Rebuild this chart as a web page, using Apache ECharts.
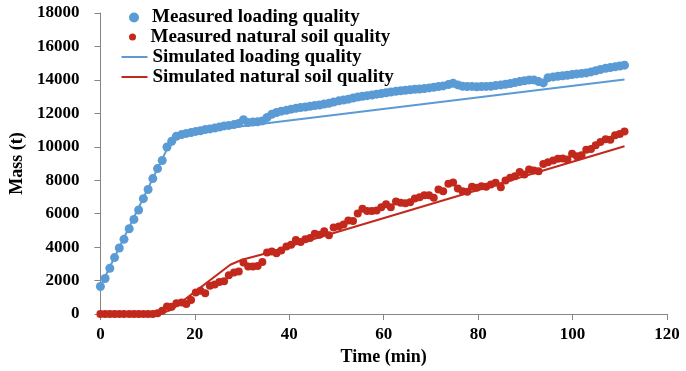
<!DOCTYPE html>
<html>
<head>
<meta charset="utf-8">
<script src="https://cdn.jsdelivr.net/npm/echarts@6/dist/echarts.min.js"></script>
<style>
html,body{margin:0;padding:0;background:#fff;}
#chart{width:686px;height:371px;}
</style>
</head>
<body>
<div id="chart"></div>
<script>
// ---- data ----
var times = [0,1.0,2.0,3.0,4.0,5.0,6.1,7.1,8.1,9.1,10.1,11.1,12.1,13.1,14.1,15.1,16.1,17.2,18.2,19.2,
20.2,21.2,22.2,23.2,24.2,25.2,26.2,27.2,28.3,29.3,30.3,31.3,32.3,33.3,34.3,35.3,36.3,37.3,38.3,39.4,
40.4,41.4,42.4,43.4,44.4,45.4,46.4,47.4,48.4,49.4,50.5,51.5,52.5,53.5,54.5,55.5,56.5,57.5,58.5,59.5,
60.5,61.5,62.6,63.6,64.6,65.6,66.6,67.6,68.6,69.6,70.6,71.6,72.6,73.7,74.7,75.7,76.7,77.7,78.7,79.7,
80.7,81.7,82.7,83.7,84.8,85.8,86.8,87.8,88.8,89.8,90.8,91.8,92.8,93.8,94.8,95.9,96.9,97.9,98.9,99.9,
100.9,101.9,102.9,103.9,104.9,105.9,107.0,108.0,109.0,110.0,111.0];

var measuredLoading = [1650,2130,2740,3380,3950,4470,5100,5660,6220,6900,7450,8100,8700,9180,9990,10330,10630,10730,
10800,10850,10920,10960,11030,11070,11120,11180,11250,11280,11330,11400,11620,11450,11480,11500,11550,11750,11950,12050,12130,12180,
12250,12300,12350,12380,12420,12470,12500,12560,12600,12680,12750,12800,12850,12920,12980,13020,13060,13100,13150,13190,
13230,13280,13320,13350,13380,13410,13440,13460,13480,13520,13560,13600,13640,13720,13800,13700,13620,13600,13610,13590,
13600,13610,13620,13660,13700,13740,13780,13840,13900,13950,13990,14000,13900,13820,14130,14180,14220,14250,14280,14320,
14360,14390,14420,14480,14550,14620,14700,14740,14780,14830,14880];

var measuredSoil = [0,0,0,0,0,0,0,0,0,0,0,0,50,200,460,440,650,700,600,850,
1290,1390,1250,1690,1770,1920,1970,2320,2480,2540,3080,2840,2840,2880,3120,3680,3740,3640,3800,4040,
4150,4430,4310,4470,4550,4810,4750,4950,4710,5180,5240,5360,5600,5560,6020,6300,6160,6160,6200,6390,
6560,6390,6730,6660,6620,6690,6910,6990,7110,7110,6950,7450,7350,7790,7870,7510,
7350,7310,7610,7550,7650,7610,7750,7850,7590,7990,8150,8240,8500,8340,8640,8580,8540,8980,9080,9180,
9280,9300,9240,9580,9430,9490,9830,9870,10090,10290,10450,10430,10690,10770,10920];

var simLoadingTime = [0,14,16,17,111];
var simLoadingVal  = [1650,9800,10450,10780,14030];

var simSoilTime = [0,12.5,15,27.5,30,34,111];
var simSoilVal  = [0,0,250,2950,3250,3550,10030];

var xTicks = [0,20,40,60,80,100,120];
var yTicks = [0,2000,4000,6000,8000,10000,12000,14000,16000,18000];

var names = ['Measured loading quality','Measured natural soil quality','Simulated loading quality','Simulated natural soil quality'];
// ----------------------------------------------

function pairs(xs, ys){ var out=[]; for(var i=0;i<xs.length;i++){ out.push([xs[i], ys[i]]); } return out; }

var BLUE = '#5B9BD5', RED = '#C3281D', AXIS = '#868686';
var FONT = '"Liberation Serif","Times New Roman",serif';
var legendText = {fontFamily: FONT, fontWeight:'bold', fontSize:19, color:'#000', lineHeight:20};

var chart = echarts.init(document.getElementById('chart'), null, {renderer:'canvas'});
chart.setOption({
  animation:false,
  backgroundColor:'#fff',
  grid:{left:96.5, right:19, top:13, bottom:56, containLabel:false},
  legend:[
    {data:[{name:names[0], icon:'circle'}], orient:'vertical', left:124, top:2.5, padding:5, itemWidth:26, itemHeight:10, itemGap:0, textStyle:legendText, selectedMode:false},
    {data:[{name:names[1], icon:'circle'}], orient:'vertical', left:124, top:22, padding:5, itemWidth:26, itemHeight:7, itemGap:0, textStyle:legendText, selectedMode:false},
    {data:[{name:names[2], icon:'rect'}, {name:names[3], icon:'rect'}], orient:'vertical', left:116.5, top:42, padding:5, itemWidth:26, itemHeight:2, itemGap:0, textStyle:legendText, selectedMode:false}
  ],
  xAxis:{
    type:'value', min:xTicks[0], max:xTicks[xTicks.length-1], interval:20,
    name:'Time (min)', nameLocation:'middle', nameGap:31,
    nameTextStyle:{fontFamily:FONT, fontWeight:'bold', fontSize:18, color:'#000'},
    axisLine:{show:true, lineStyle:{color:AXIS, width:1}},
    axisTick:{show:true, inside:false, length:6, lineStyle:{color:AXIS}},
    axisLabel:{fontFamily:FONT, fontWeight:'bold', fontSize:17, color:'#000', margin:12},
    splitLine:{show:false}
  },
  yAxis:{
    type:'value', min:yTicks[0], max:yTicks[yTicks.length-1], interval:2000,
    name:'Mass (t)', nameLocation:'middle', nameGap:70, nameRotate:90,
    nameTextStyle:{fontFamily:FONT, fontWeight:'bold', fontSize:18, color:'#000'},
    axisLine:{show:true, lineStyle:{color:AXIS, width:1}},
    axisTick:{show:true, inside:false, length:6, lineStyle:{color:AXIS}},
    axisLabel:{fontFamily:FONT, fontWeight:'bold', fontSize:17, color:'#000', margin:21,
      formatter:function(v){ return String(v); }},
    splitLine:{show:false}
  },
  series:[
    {name:names[0], type:'scatter', data:pairs(times, measuredLoading), symbol:'circle', symbolSize:9,
     itemStyle:{color:BLUE, opacity:1}, z:3},
    {name:names[1], type:'scatter', data:pairs(times, measuredSoil), symbol:'circle', symbolSize:8,
     itemStyle:{color:RED, opacity:1}, z:3},
    {name:names[2], type:'line', data:pairs(simLoadingTime, simLoadingVal), showSymbol:false, symbol:'none',
     lineStyle:{color:BLUE, width:2}, itemStyle:{color:BLUE}, z:2},
    {name:names[3], type:'line', data:pairs(simSoilTime, simSoilVal), showSymbol:false, symbol:'none',
     lineStyle:{color:RED, width:2}, itemStyle:{color:RED}, z:2}
  ]
});
</script>
</body>
</html>
